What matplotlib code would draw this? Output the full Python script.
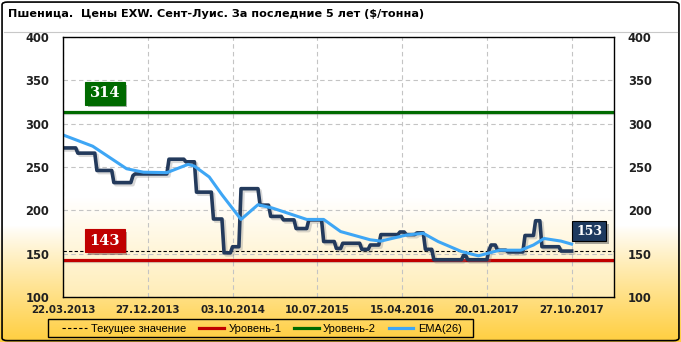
import matplotlib
matplotlib.use('Agg')
import matplotlib.pyplot as plt
import matplotlib.patheffects as pe
from matplotlib.patches import FancyBboxPatch, Rectangle
from matplotlib.lines import Line2D
import numpy as np
import pandas as pd

TITLE = 'Пшеница.  Цены EXW. Сент-Луис. За последние 5 лет ($/тонна)'

# weekly price, stored as the corners of the step line
price_dates = ['2013-03-22', '2013-05-03', '2013-05-10', '2013-07-05', '2013-07-12', '2013-08-30',
               '2013-09-06', '2013-11-01', '2013-11-08', '2013-11-15', '2014-02-28', '2014-03-07',
               '2014-04-25', '2014-05-02', '2014-05-30', '2014-06-06', '2014-07-25', '2014-08-01',
               '2014-08-29', '2014-09-05', '2014-09-26', '2014-10-03', '2014-10-24', '2014-10-31',
               '2014-12-26', '2015-01-02', '2015-01-30', '2015-02-06', '2015-03-13', '2015-03-20',
               '2015-04-24', '2015-05-01', '2015-06-05', '2015-06-12', '2015-07-24', '2015-07-31',
               '2015-09-04', '2015-09-11', '2015-09-25', '2015-10-02', '2015-11-27', '2015-12-04',
               '2015-12-25', '2016-01-01', '2016-01-29', '2016-02-05', '2016-04-01', '2016-04-08',
               '2016-04-22', '2016-04-29', '2016-05-27', '2016-06-03', '2016-06-24', '2016-07-01',
               '2016-07-22', '2016-07-29', '2016-10-28', '2016-11-04', '2016-11-11', '2016-11-18',
               '2017-01-20', '2017-01-27', '2017-02-03', '2017-02-17', '2017-02-24', '2017-03-24',
               '2017-03-31', '2017-05-19', '2017-05-26', '2017-06-23', '2017-06-30', '2017-07-14',
               '2017-07-21', '2017-09-15', '2017-09-22', '2017-10-27']
price_values = [272, 272, 266, 266, 246, 246,
                232, 232, 240, 242, 242, 259,
                259, 256, 256, 221, 221, 190,
                190, 151, 151, 158, 158, 225,
                225, 206, 206, 193, 193, 189,
                189, 179, 179, 189, 189, 164,
                164, 156, 156, 162, 162, 155,
                155, 160, 160, 172, 172, 175,
                175, 172, 172, 174, 174, 155,
                155, 143, 143, 148, 148, 143,
                143, 154, 160, 160, 154, 154,
                152, 152, 171, 171, 188, 188,
                158, 158, 153, 153]

ema_dates = ['2013-03-22', '2013-06-28', '2013-10-18', '2013-12-13', '2014-02-28', '2014-05-09',
             '2014-05-30', '2014-07-18', '2014-08-29', '2014-10-31', '2014-12-26', '2015-02-13',
             '2015-06-05', '2015-07-31', '2015-09-25', '2016-01-01', '2016-02-05', '2016-04-29',
             '2016-06-24', '2016-08-12', '2016-10-28', '2016-12-23', '2017-03-03', '2017-05-12',
             '2017-06-23', '2017-07-28', '2017-09-22', '2017-10-27']
ema_values = [287, 274, 248, 244, 243.5, 253,
              251, 238.5, 218, 189.5, 206.5, 202.5,
              189.5, 189.5, 175.5, 166, 164.5, 171.5,
              173.5, 164, 152.5, 147.5, 154, 154,
              160, 167.5, 164.5, 161]

level_1 = 143
level_2 = 314
current = 153

tick_dates = ['2013-03-22', '2013-12-27', '2014-10-03', '2015-07-10', '2016-04-15', '2017-01-20', '2017-10-27']
tick_labels = ['22.03.2013', '27.12.2013', '03.10.2014', '10.07.2015', '15.04.2016', '20.01.2017', '27.10.2017']
x_start, x_end = '2013-03-22', '2018-03-16'

legend_labels = ['Текущее значение', 'Уровень-1', 'Уровень-2', 'EMA(26)']

PRICE_C = '#233a5c'
EMA_C = '#3ea6f5'
RED = '#c00000'
GREEN = '#006a00'

fig = plt.figure(figsize=(6.81, 3.42), dpi=100)

# background gradient of the whole picture
bg = fig.add_axes([0, 0, 1, 1], zorder=-10)
rows = np.linspace(0, 1, 342)
t = np.clip((rows - 0.66) / 0.34, 0, 1) ** 0.9
top = np.array([1.0, 1.0, 1.0])
bot = np.array([1.0, 0.81, 0.25])
grad = top[None, :] * (1 - t[:, None]) + bot[None, :] * t[:, None]
bg.imshow(grad[:, None, :], aspect='auto', extent=[0, 1, 0, 1], origin='upper')
bg.set_xlim(0, 1)
bg.set_ylim(0, 1)
bg.axis('off')
bg.add_patch(FancyBboxPatch((0.003, 0.004), 0.994, 0.99, boxstyle='round,pad=0,rounding_size=0.008',
                            transform=bg.transAxes, fill=False, ec='black', lw=1.2))
bg.plot([0.006, 0.994], [0.905, 0.905], color='#c8c8c8', lw=0.8)

fig.text(0.012, 0.958, TITLE, fontsize=8.1, fontweight='bold', va='center', ha='left')

ax = fig.add_axes([63 / 681, 45 / 342, 551 / 681, 260 / 342])
ax.set_facecolor('white')

# light cream gradient at the bottom of the plot area
pt = np.clip((np.linspace(0, 1, 200) - 0.62) / 0.38, 0, 1)
pbot = np.array([1.0, 0.93, 0.72])
pgrad = top[None, :] * (1 - pt[:, None]) + pbot[None, :] * pt[:, None]
ax.imshow(pgrad[:, None, :], aspect='auto', extent=[0, 1, 0, 1], origin='upper',
          transform=ax.transAxes, zorder=0)

px = pd.to_datetime(price_dates)
ex = pd.to_datetime(ema_dates)

shadow = [pe.SimpleLineShadow(offset=(1.2, -1.2), shadow_color='gray', alpha=0.35), pe.Normal()]

ax.axhline(level_2, color=GREEN, lw=2.3, zorder=3, path_effects=shadow)
ax.axhline(level_1, color=RED, lw=2.3, zorder=3, path_effects=shadow)
ax.axhline(current, color='black', lw=0.8, ls=(0, (3, 2)), zorder=3)

ax.plot(px, price_values, color=PRICE_C, lw=2.6, zorder=4, solid_joinstyle='round',
        path_effects=[pe.SimpleLineShadow(offset=(1.5, -1.5), shadow_color='gray', alpha=0.3), pe.Normal()])
ax.plot(ex, ema_values, color=EMA_C, lw=2.2, zorder=5)

ax.set_xlim(pd.Timestamp(x_start), pd.Timestamp(x_end))
ax.set_ylim(100, 400)
ax.set_yticks(range(100, 401, 50))
ax.set_xticks(pd.to_datetime(tick_dates))
ax.set_xticklabels(tick_labels)
ax.grid(True, color='#c4c4c4', ls=(0, (4, 3)), lw=0.8, zorder=1)
ax.set_axisbelow(False)
for s in ax.spines.values():
    s.set_color('black')
    s.set_linewidth(1.0)
    s.set_zorder(6)
ax.tick_params(axis='y', length=0, pad=10, labelsize=8.3, labelright=True, labelcolor='#202020')
ax.tick_params(axis='x', length=0, pad=6, labelsize=7.4, labelcolor='#202020')
for lab in ax.get_xticklabels():
    lab.set_fontweight('bold')
for tk in ax.yaxis.get_major_ticks():
    tk.label1.set_fontweight('bold')
    tk.label2.set_fontweight('bold')


def tag(x, y, text, fc, size):
    tx = ax.text(x, y, text, transform=ax.get_yaxis_transform(), ha='center', va='center',
                 color='white', fontsize=size, fontweight='bold', family='DejaVu Serif', zorder=8,
                 bbox=dict(boxstyle='square,pad=0.3', fc=fc, ec='black' if fc == '#1e3a5f' else fc, lw=0.8))
    tx.get_bbox_patch().set_path_effects([pe.SimplePatchShadow(offset=(2, -2), alpha=0.35), pe.Normal()])
    return tx


tag(0.076, 335, str(level_2), GREEN, 10.5)
tag(0.076, 165, str(level_1), RED, 10.5)
tag(0.955, 176, str(current), '#1e3a5f', 9)

# legend box
bg.add_patch(Rectangle((48 / 681, 5 / 342), 425 / 681, 18 / 342, transform=bg.transAxes,
                       fill=False, ec='black', lw=1.0))
handles = [Line2D([], [], color='black', lw=0.8, ls=(0, (3, 2))),
           Line2D([], [], color=RED, lw=2.3),
           Line2D([], [], color=GREEN, lw=2.3),
           Line2D([], [], color=EMA_C, lw=2.3)]
leg = fig.legend(handles, legend_labels, loc='center', ncol=4,
                 bbox_to_anchor=(262 / 681, 13 / 342), frameon=False,
                 prop={'family': 'Liberation Sans', 'size': 8}, handlelength=2.2,
                 handletextpad=0.4, columnspacing=1.15, borderaxespad=0)

fig.savefig('out.png', dpi=100)
